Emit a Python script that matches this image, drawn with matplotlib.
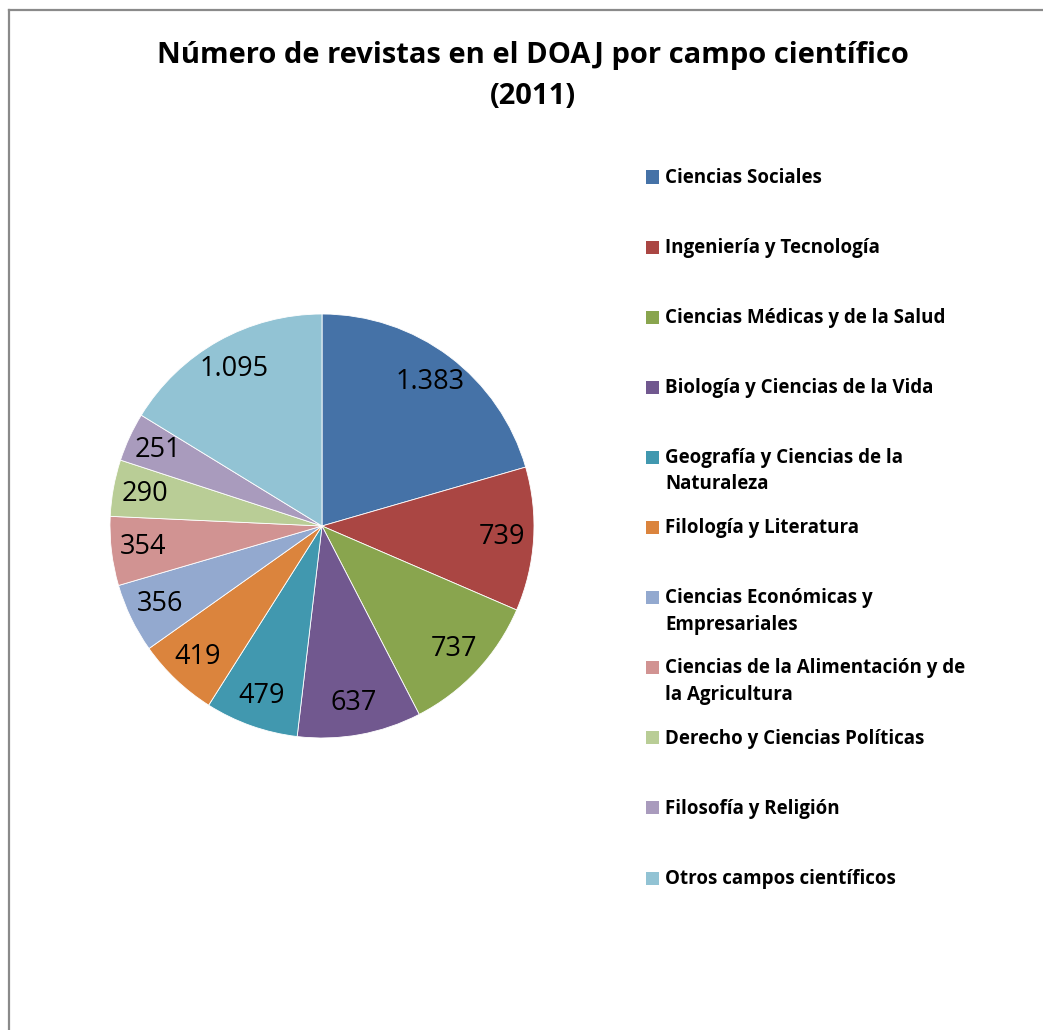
import matplotlib.pyplot as plt
from matplotlib.patches import Rectangle
from matplotlib.lines import Line2D

plt.rcParams['font.family'] = ['Open Sans', 'DejaVu Sans']

campos = [
    "Ciencias Sociales",
    "Ingeniería y Tecnología",
    "Ciencias Médicas y de la Salud",
    "Biología y Ciencias de la Vida",
    "Geografía y Ciencias de la\nNaturaleza",
    "Filología y Literatura",
    "Ciencias Económicas y\nEmpresariales",
    "Ciencias de la Alimentación y de\nla Agricultura",
    "Derecho y Ciencias Políticas",
    "Filosofía y Religión",
    "Otros campos científicos",
]
revistas = [1383, 739, 737, 637, 479, 419, 356, 354, 290, 251, 1095]
colores = ["#4572A7", "#AA4643", "#89A54E", "#71588F", "#4198AF", "#DB843D",
           "#93A9CF", "#D19392", "#B9CD96", "#A99BBD", "#92C3D4"]

W, H = 1043, 1030
fig = plt.figure(figsize=(W / 100, H / 100), dpi=100)

# pie axes: centre (322, 526) px, radius 212 px
cx, cy, r = 322, 526, 212
ax = fig.add_axes([(cx - r) / W, (H - cy - r) / H, 2 * r / W, 2 * r / H])
total = sum(revistas)

def fmt(p):
    v = int(round(p * total / 100))
    return f"{v:,}".replace(",", ".")

wedges, texts, autotexts = ax.pie(
    revistas, colors=colores, startangle=90, counterclock=False,
    autopct=fmt, pctdistance=0.85, radius=1,
    wedgeprops=dict(edgecolor="white", linewidth=0.6),
    textprops=dict(fontsize=19.5, color="black"))
ax.set_xlim(-1, 1)
ax.set_ylim(-1, 1)
ax.set_aspect("equal")

# title
fig.text(533 / W, 1 - 56 / H, "Número de revistas en el DOAJ por campo científico",
         ha="center", va="center", fontsize=21, fontweight="bold")
fig.text(533 / W, 1 - 96 / H, "(2011)", ha="center", va="center",
         fontsize=21, fontweight="bold")

# legend, first lines on a regular grid like the original
y0, step, line_h = 177, 70.1, 26
for i, (lab, col) in enumerate(zip(campos, colores)):
    y = y0 + i * step
    fig.patches.append(Rectangle((646 / W, 1 - (y + 6.5) / H), 13 / W, 13 / H,
                                 facecolor=col, edgecolor="none",
                                 transform=fig.transFigure))
    # baseline alignment refers to the last line of the label
    base = y + 6 + (lab.count("\n")) * line_h
    fig.text(665 / W, 1 - base / H, lab, ha="left", va="baseline",
             fontsize=13.5, fontweight="bold", linespacing=1.43)

# chart area border
fig.lines.append(Line2D([9 / W, 9 / W], [1 - 10 / H, 0], transform=fig.transFigure,
                        color="#8a8a8a", linewidth=1.6))
fig.lines.append(Line2D([9 / W, 1], [1 - 10 / H, 1 - 10 / H], transform=fig.transFigure,
                        color="#8a8a8a", linewidth=1.6))

fig.savefig("out.png", dpi=100)
